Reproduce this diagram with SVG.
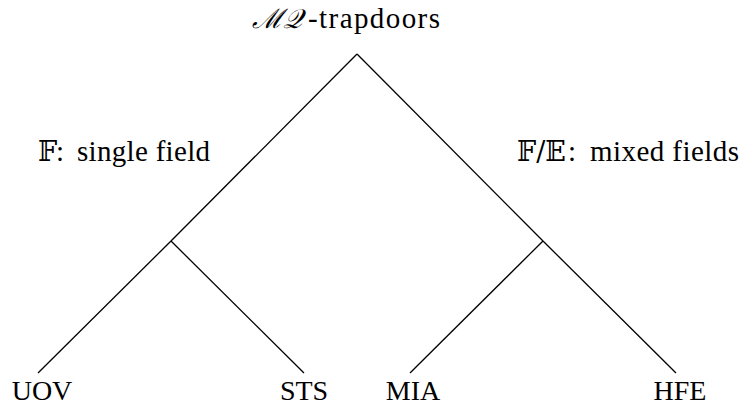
<svg xmlns="http://www.w3.org/2000/svg" width="743" height="406" viewBox="0 0 743 406">
<defs>
<style>
.e{stroke:#000;stroke-width:1.3;fill:none}
</style>
</defs>
<rect width="743" height="406" fill="#fff"/>
<g id="connectors">
<line class="e" x1="357" y1="54" x2="171" y2="241"/>
<line class="e" x1="357" y1="54" x2="543" y2="241"/>
<line class="e" x1="171" y1="241" x2="38" y2="373"/>
<line class="e" x1="171" y1="241" x2="304" y2="373"/>
<line class="e" x1="543" y1="241" x2="410" y2="373"/>
<line class="e" x1="543" y1="241" x2="676" y2="373"/>
</g>
<g id="root">
<text x="252" y="28" font-family="DejaVu Serif" font-size="27" font-style="italic" fill="#000">ℳ𝒬</text>
<text x="308" y="28" font-family="Liberation Serif" font-size="29" fill="#000" textLength="132" lengthAdjust="spacing">-trapdoors</text>
</g>
<g id="label-left">
<text x="38" y="161" font-family="DejaVu Serif" font-size="27" fill="#000">𝔽</text>
<text x="56" y="161" font-family="Liberation Serif" font-size="29" fill="#000">:</text>
<text x="77" y="161" font-family="Liberation Serif" font-size="29" fill="#000" textLength="133" lengthAdjust="spacing">single field</text>
</g>
<g id="label-right">
<text x="517" y="161" font-family="DejaVu Serif" font-size="27" fill="#000">𝔽/𝔼</text>
<text x="568" y="161" font-family="Liberation Serif" font-size="29" fill="#000">:</text>
<text x="590" y="161" font-family="Liberation Serif" font-size="29" fill="#000" textLength="149" lengthAdjust="spacing">mixed fields</text>
</g>
<g id="uov"><text x="42" y="400" font-family="Liberation Serif" font-size="28" fill="#000" text-anchor="middle">UOV</text></g>
<g id="sts"><text x="304" y="400" font-family="Liberation Serif" font-size="28" fill="#000" text-anchor="middle">STS</text></g>
<g id="mia"><text x="413" y="400" font-family="Liberation Serif" font-size="28" fill="#000" text-anchor="middle">MIA</text></g>
<g id="hfe"><text x="680" y="400" font-family="Liberation Serif" font-size="28" fill="#000" text-anchor="middle">HFE</text></g>
</svg>
